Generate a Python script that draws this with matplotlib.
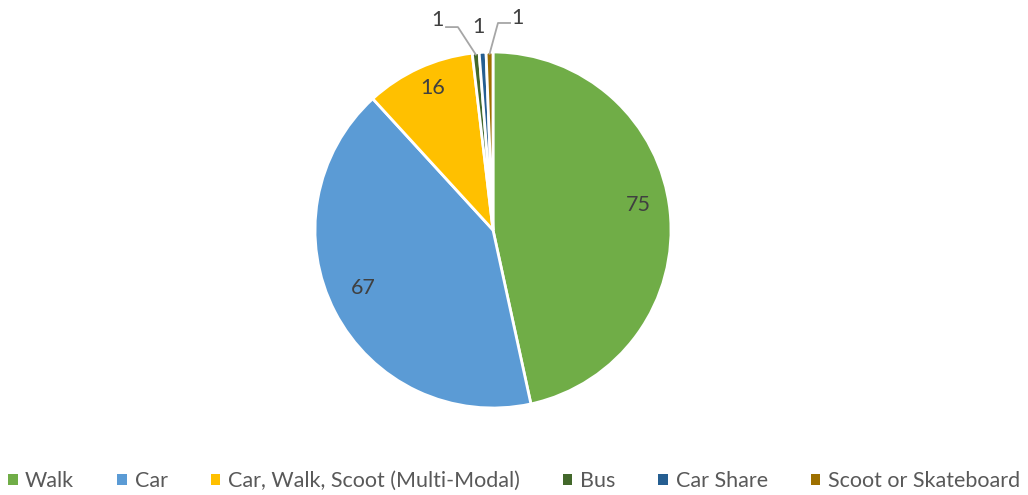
import numpy as np
import matplotlib.pyplot as plt
from matplotlib.patches import Patch

plt.rcParams['font.family'] = ['Lato', 'DejaVu Sans']

# commute modes and counts
modes = ["Walk", "Car", "Car, Walk, Scoot (Multi-Modal)", "Bus", "Car Share", "Scoot or Skateboard"]
counts = [75, 67, 16, 1, 1, 1]
colors = ["#70AD47", "#5B9BD5", "#FFC000", "#43682B", "#255E91", "#9E7000"]

W, H = 1028, 495
fig = plt.figure(figsize=(W / 100, H / 100), dpi=100)

# pie axes placed in pixels: centre (493, 230), radius 178
cx, cy, r = 493, 230, 178
ax = fig.add_axes([(cx - r) / W, (H - cy - r) / H, 2 * r / W, 2 * r / H])

wedges, _ = ax.pie(counts, colors=colors, startangle=90, counterclock=False,
                   wedgeprops=dict(edgecolor="white", linewidth=2))
ax.set_xlim(-1, 1)
ax.set_ylim(-1, 1)
ax.set_aspect("equal")
ax.axis("off")

txt_col = "#404040"
fs = 15.5
mids = [np.deg2rad((w.theta1 + w.theta2) / 2) for w in wedges]

# big slices: labels inside
for ang, val in zip(mids[:3], counts[:3]):
    ax.text(0.82 * np.cos(ang), 0.82 * np.sin(ang) + 0.05, str(val),
            ha="center", va="center", fontsize=fs, color=txt_col)

# small slices: labels outside, two with leader lines
leader_col = "#A6A6A6"
# Bus
a = mids[3]
x0, y0 = 0.99 * np.cos(a), 0.99 * np.sin(a)
ax.plot([x0, -0.197, -0.264], [y0, 1.14, 1.14], color=leader_col, lw=1.3, clip_on=False)
ax.text(-0.31, 1.18, str(counts[3]), ha="center", va="center", fontsize=fs, color=txt_col)
# Car Share
ax.text(-0.084, 1.14, str(counts[4]), ha="center", va="center", fontsize=fs, color=txt_col)
# Scoot or Skateboard
a = mids[5]
x0, y0 = 0.99 * np.cos(a), 0.99 * np.sin(a)
ax.plot([x0, 0.028, 0.096], [y0, 1.163, 1.163], color=leader_col, lw=1.3, clip_on=False)
ax.text(0.14, 1.19, str(counts[5]), ha="center", va="center", fontsize=fs, color=txt_col)

handles = [Patch(facecolor=c, edgecolor="none") for c in colors]
fig.legend(handles, modes, loc="center", bbox_to_anchor=(0.5, 1 - 481 / H), ncol=6,
           frameon=False, fontsize=fs, labelcolor="#595959",
           handlelength=0.45, handleheight=0.45, handletextpad=0.35, columnspacing=2.0)

fig.savefig("out.png", dpi=100, facecolor="white")
